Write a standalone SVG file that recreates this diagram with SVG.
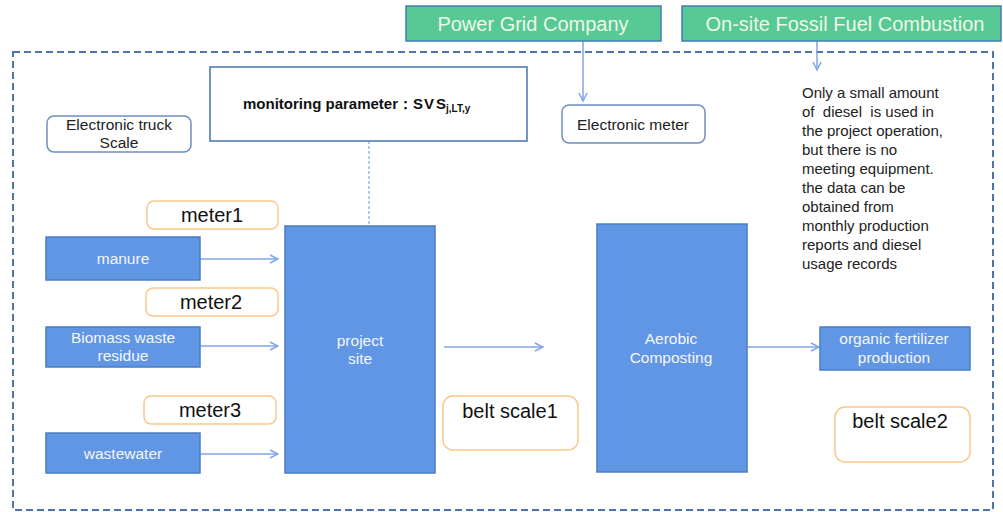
<svg xmlns="http://www.w3.org/2000/svg" width="1003" height="512" viewBox="0 0 1003 512">
<defs>
<marker id="ah" viewBox="0 0 10 10" refX="9" refY="5" markerWidth="10" markerHeight="10" markerUnits="userSpaceOnUse" orient="auto">
<path d="M1,1 L9,5 L1,9" fill="none" stroke="#7FA6E6" stroke-width="1.5"/>
</marker>
<style>
text{font-family:"Liberation Sans",Arial,sans-serif}
.blue{fill:#6096E4;stroke:#4A7CC4;stroke-width:1.5}
.bt{fill:#F4F7FC;font-size:15.5px;text-anchor:middle}
.green{fill:#56C994;stroke:#3F7FB8;stroke-width:1.5}
.gt{fill:#EEF8E6;font-size:20px;text-anchor:middle}
.orange{fill:#fff;stroke:#F9C98A;stroke-width:1.5}
.ot{fill:#111;font-size:20px;text-anchor:middle}
.wbox{fill:#fff;stroke:#6E8FC0;stroke-width:1.5}
.dt{fill:#222;font-size:15.5px}
.nt{fill:#222;font-size:15px}
.conn{stroke:#7FA6E6;stroke-width:1.5;fill:none}
</style>
</defs>
<rect x="13" y="52" width="980" height="458" fill="none" stroke="#4F74AC" stroke-width="2" stroke-dasharray="7,4"/>

<g id="connectors">
<line class="conn" x1="583" y1="41" x2="583" y2="101" marker-end="url(#ah)"/>
<line class="conn" x1="817" y1="41" x2="817" y2="70" marker-end="url(#ah)"/>
<line x1="369" y1="141" x2="369" y2="226" stroke="#7FA6E6" stroke-width="1.2" stroke-dasharray="3,2"/>
<line class="conn" x1="200" y1="259" x2="278" y2="259" marker-end="url(#ah)"/>
<line class="conn" x1="200" y1="346" x2="278" y2="346" marker-end="url(#ah)"/>
<line class="conn" x1="200" y1="454" x2="278" y2="454" marker-end="url(#ah)"/>
<line class="conn" x1="444" y1="347" x2="543" y2="347" marker-end="url(#ah)"/>
<line class="conn" x1="747" y1="347" x2="819" y2="347" marker-end="url(#ah)"/>
</g>

<g id="power-grid">
<rect class="green" x="406" y="6" width="255" height="35"/>
<text class="gt" x="533" y="31">Power Grid Company</text>
</g>
<g id="fossil-fuel">
<rect class="green" x="682" y="6" width="319" height="35"/>
<text class="gt" x="845" y="31">On-site Fossil Fuel Combustion</text>
</g>

<g id="monitoring">
<rect x="210" y="67" width="317" height="74" fill="#fff" stroke="#4A72B0" stroke-width="1.5"/>
<text x="243" y="109" font-size="15" font-weight="bold" fill="#111">monitoring parameter：S<tspan dx="1">V</tspan><tspan dx="2">S</tspan><tspan font-size="10" dy="3">j,LT,y</tspan></text>
</g>

<g id="electronic-meter">
<rect class="wbox" x="562" y="105" width="143" height="38" rx="7"/>
<text class="dt" x="633" y="130" text-anchor="middle">Electronic meter</text>
</g>

<g id="truck-scale">
<rect class="wbox" x="47" y="116" width="144" height="36" rx="7"/>
<text class="dt" x="119" y="130" text-anchor="middle">Electronic truck</text>
<text class="dt" x="119" y="148" text-anchor="middle">Scale</text>
</g>

<g id="note">
<text class="nt" x="802" xml:space="preserve"><tspan x="802" y="98">Only a small amount</tspan><tspan x="802" y="117">of  diesel  is used in</tspan><tspan x="802" y="136">the project operation,</tspan><tspan x="802" y="155">but there is no</tspan><tspan x="802" y="174">meeting equipment.</tspan><tspan x="802" y="193">the data can be</tspan><tspan x="802" y="212">obtained from</tspan><tspan x="802" y="231">monthly production</tspan><tspan x="802" y="250">reports and diesel</tspan><tspan x="802" y="269">usage records</tspan></text>
</g>

<g id="meter1">
<rect class="orange" x="147" y="201" width="131" height="28" rx="7"/>
<text class="ot" x="212" y="222">meter1</text>
</g>
<g id="meter2">
<rect class="orange" x="146" y="288" width="132" height="28" rx="7"/>
<text class="ot" x="211" y="309">meter2</text>
</g>
<g id="meter3">
<rect class="orange" x="144" y="396" width="132" height="28" rx="7"/>
<text class="ot" x="210" y="417">meter3</text>
</g>

<g id="manure">
<rect class="blue" x="46" y="237" width="154" height="43"/>
<text class="bt" x="123" y="264">manure</text>
</g>
<g id="biomass">
<rect class="blue" x="46" y="327" width="154" height="40"/>
<text class="bt" x="123" y="343">Biomass waste</text>
<text class="bt" x="123" y="361">residue</text>
</g>
<g id="wastewater">
<rect class="blue" x="46" y="433" width="154" height="40"/>
<text class="bt" x="123" y="459">wastewater</text>
</g>

<g id="project-site">
<rect class="blue" x="285" y="226" width="150" height="247"/>
<text class="bt" x="360" y="346">project</text>
<text class="bt" x="360" y="364">site</text>
</g>

<g id="belt-scale1">
<rect class="orange" x="443" y="396" width="135" height="54" rx="10"/>
<text class="ot" x="510" y="418">belt scale1</text>
</g>

<g id="aerobic">
<rect class="blue" x="597" y="224" width="150" height="248"/>
<text class="bt" x="671" y="344">Aerobic</text>
<text class="bt" x="671" y="363">Composting</text>
</g>

<g id="organic">
<rect class="blue" x="820" y="327" width="150" height="43"/>
<text class="bt" x="894" y="344">organic fertilizer</text>
<text class="bt" x="894" y="363">production</text>
</g>

<g id="belt-scale2">
<rect class="orange" x="835" y="407" width="135" height="55" rx="10"/>
<text class="ot" x="900" y="428">belt scale2</text>
</g>
</svg>
